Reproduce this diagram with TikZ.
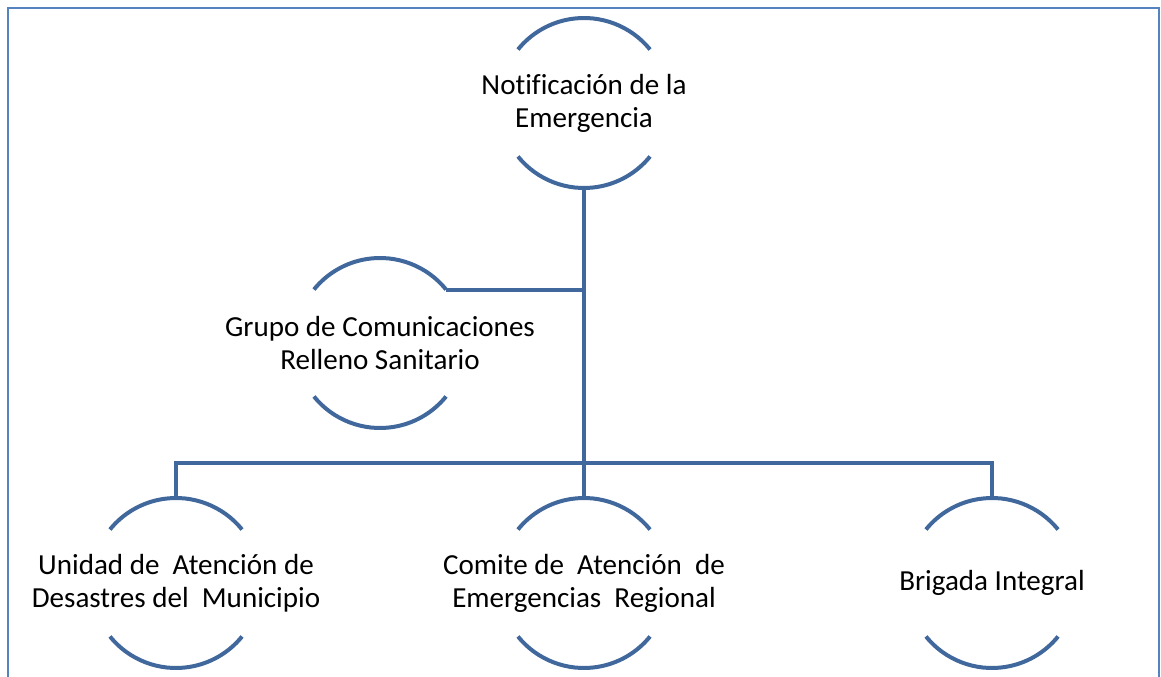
\documentclass[tikz,border=0pt]{standalone}
\usepackage{fontspec}
\setmainfont[Ligatures=NoCommon]{Carlito}
\usetikzlibrary{positioning,arrows.meta,calc}
\definecolor{linea}{RGB}{64,104,156}
\definecolor{marco}{RGB}{84,131,192}
\tikzset{
  ring/.style={circle,minimum size=127.5pt,inner sep=0pt,outer sep=0pt},
  lbl/.style={align=center,inner sep=0pt,font=\fontsize{21.8}{24.8}\selectfont},
  arcline/.style={draw=linea,line width=3pt},
  link/.style={draw=linea,line width=3pt},
  frame/.style={draw=marco,line width=1.6pt}
}
\begin{document}
\begin{tikzpicture}[x=0.75pt,y=0.75pt]
  \useasboundingbox (0,0) rectangle (1161,676);
  % 枠（下辺なし）
  \draw[frame] (8,-10) -- (8,668) -- (1159,668) -- (1159,-10);
  % 円
  \node[ring] (notif)   at (584,573) {};
  \node[ring] (grupo)   at (380,333) {};
  \node[ring] (unidad)  at (176,93) {};
  \node[ring] (comite)  at (584,93) {};
  \node[ring] (brigada) at (992,93) {};
  \foreach \n in {notif,grupo,unidad,comite,brigada}{
    \draw[arcline] (\n.39) arc (39:141:85);
    \draw[arcline] (\n.219) arc (219:321:85);
  }
  % 文字
  \node[lbl] (notif-t)   at (notif)   {Notificación de la\\Emergencia};
  \node[lbl] (grupo-t)   at (grupo)   {Grupo de Comunicaciones\\Relleno Sanitario};
  \node[lbl] (unidad-t)  at (unidad)  {Unidad de~ Atención de\\Desastres del~ Municipio};
  \node[lbl] (comite-t)  at (comite)  {Comite de~ Atención~ de\\Emergencias~ Regional};
  \node[lbl] (brigada-t) at (brigada) {Brigada Integral};
  % 接続線
  \coordinate (bar) at (584,213);
  \draw[link] (notif.south) -- (bar);
  \draw[link] (grupo.39) -- (grupo.39 -| notif.south);
  \draw[link] (unidad.north) |- (bar) -| (brigada.north);
  \draw[link] (bar) -- (comite.north);
\end{tikzpicture}
\end{document}
